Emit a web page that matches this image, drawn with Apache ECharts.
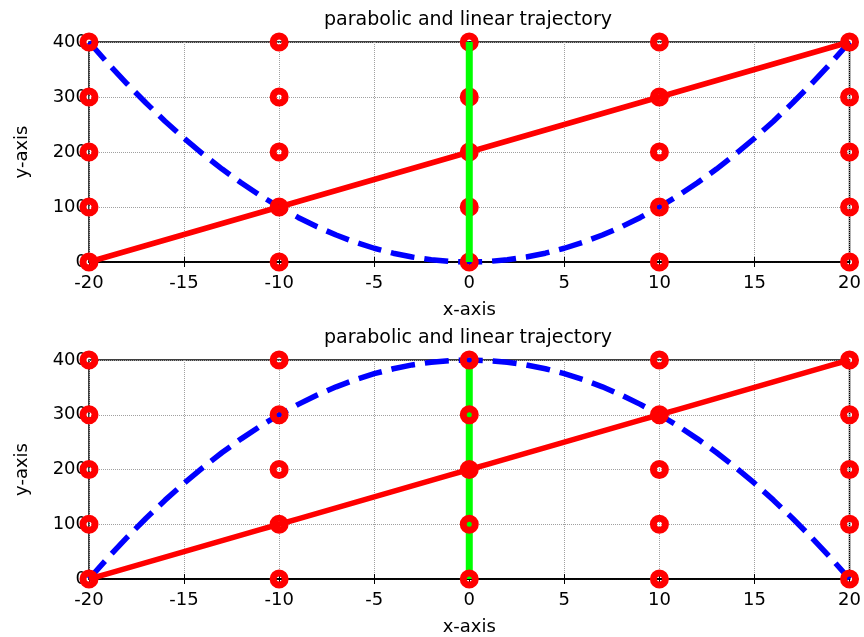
<!DOCTYPE html>
<html>
<head>
<meta charset="utf-8">
<script src="https://cdn.jsdelivr.net/npm/echarts@6/dist/echarts.min.js"></script>
<style>
html,body{margin:0;padding:0;background:#fff;}
#chart{width:864px;height:637px;}
</style>
</head>
<body>
<div id="chart"></div>
<script>
// ---- data ----
var xValues = [-20,-19,-18,-17,-16,-15,-14,-13,-12,-11,-10,-9,-8,-7,-6,-5,-4,-3,-2,-1,0,1,2,3,4,5,6,7,8,9,10,11,12,13,14,15,16,17,18,19,20];
var parabolaUp = [400,361,324,289,256,225,196,169,144,121,100,81,64,49,36,25,16,9,4,1,0,1,4,9,16,25,36,49,64,81,100,121,144,169,196,225,256,289,324,361,400];
var parabolaDown = [0,39,76,111,144,175,204,231,256,279,300,319,336,351,364,375,384,391,396,399,400,399,396,391,384,375,364,351,336,319,300,279,256,231,204,175,144,111,76,39,0];
var linearY = [0,10,20,30,40,50,60,70,80,90,100,110,120,130,140,150,160,170,180,190,200,210,220,230,240,250,260,270,280,290,300,310,320,330,340,350,360,370,380,390,400];
var markerX = [-20,-10,0,10,20];
var markerY = [0,100,200,300,400];
var greenX = [0,0];
var greenY = [0,400];
var xTicks = [-20,-15,-10,-5,0,5,10,15,20];
var yTicks = [0,100,200,300,400];
var titleText = 'parabolic and linear trajectory';
var xName = 'x-axis';
var yName = 'y-axis';

function pairs(xs, ys){ var o=[]; for(var i=0;i<xs.length;i++) o.push([xs[i], ys[i]]); return o; }
function gridPts(){ var o=[]; for(var i=0;i<markerX.length;i++) for(var j=0;j<markerY.length;j++) o.push([markerX[i], markerY[j]]); return o; }

var FONT = 'DejaVu Sans';
var chart = echarts.init(document.getElementById('chart'), null, {renderer:'canvas'});

var grids = [
  {left:89, top:42, width:762, height:220, show:true, borderColor:'#000', borderWidth:1.5, backgroundColor:'#fff'},
  {left:89, top:360, width:762, height:221, show:true, borderColor:'#000', borderWidth:1.5, backgroundColor:'#fff'}
];

function xAxes(g){
  return [
    {type:'value', gridIndex:g, position:'bottom', min:xTicks[0], max:xTicks[xTicks.length-1], interval:5,
     name:xName, nameLocation:'middle', nameGap:39,
     nameTextStyle:{fontFamily:FONT, fontSize:18, color:'#000'},
     axisLine:{show:true, lineStyle:{color:'#000', width:1.5}},
     axisTick:{show:true, inside:true, length:5, lineStyle:{color:'#000'}},
     axisLabel:{fontFamily:FONT, fontSize:18, color:'#000', margin:12},
     splitLine:{show:true, lineStyle:{color:'#a0a0a0', type:'dotted', width:1}}},
    {type:'value', gridIndex:g, position:'top', min:xTicks[0], max:xTicks[xTicks.length-1], interval:5,
     axisLine:{show:true, lineStyle:{color:'#000', width:1.5}},
     axisTick:{show:true, inside:true, length:5, lineStyle:{color:'#000'}},
     axisLabel:{show:false}, splitLine:{show:false}}
  ];
}
function yAxes(g){
  return [
    {type:'value', gridIndex:g, position:'left', min:yTicks[0], max:yTicks[yTicks.length-1], interval:100,
     name:yName, nameLocation:'middle', nameGap:58,
     nameTextStyle:{fontFamily:FONT, fontSize:18, color:'#000'},
     axisLine:{show:true, lineStyle:{color:'#000', width:1.5}},
     axisTick:{show:true, inside:true, length:5, lineStyle:{color:'#000'}},
     axisLabel:{fontFamily:FONT, fontSize:18, color:'#000', margin:2},
     splitLine:{show:true, lineStyle:{color:'#a0a0a0', type:'dotted', width:1}}},
    {type:'value', gridIndex:g, position:'right', min:yTicks[0], max:yTicks[yTicks.length-1], interval:100,
     axisLine:{show:true, lineStyle:{color:'#000', width:1.5}},
     axisTick:{show:true, inside:true, length:5, lineStyle:{color:'#000'}},
     axisLabel:{show:false}, splitLine:{show:false}}
  ];
}

var markerStyle = {color:'rgba(0,0,0,0)', borderColor:'#ff0000', borderWidth:7, opacity:1};

var option = {
  animation:false,
  backgroundColor:'#fff',
  title:[
    {text:titleText, left:468, top:11, textAlign:'center', padding:0, textStyle:{fontFamily:FONT, fontSize:19, fontWeight:'normal', color:'#000'}},
    {text:titleText, left:468, top:329, textAlign:'center', padding:0, textStyle:{fontFamily:FONT, fontSize:19, fontWeight:'normal', color:'#000'}}
  ],
  grid:grids,
  xAxis:xAxes(0).concat(xAxes(1)),
  yAxis:yAxes(0).concat(yAxes(1)),
  series:[
    // top plot
    {type:'line', xAxisIndex:0, yAxisIndex:0, data:pairs(xValues, parabolaUp), showSymbol:false, clip:false, z:3,
     lineStyle:{color:'#0000ff', width:5.5, type:[24,10]}},
    {type:'line', xAxisIndex:0, yAxisIndex:0, data:pairs(xValues, linearY), showSymbol:false, clip:false, z:3,
     lineStyle:{color:'#ff0000', width:5.5}},
    {type:'scatter', xAxisIndex:0, yAxisIndex:0, data:gridPts(), symbol:'circle', symbolSize:12, clip:false, z:4,
     itemStyle:markerStyle},
    {type:'line', xAxisIndex:0, yAxisIndex:0, data:pairs(greenX, greenY), showSymbol:false, clip:false, z:5,
     lineStyle:{color:'#00ff00', width:7}},
    // bottom plot
    {type:'line', xAxisIndex:2, yAxisIndex:2, data:pairs(greenX, greenY), showSymbol:false, clip:false, z:2,
     lineStyle:{color:'#00ff00', width:7}},
    {type:'line', xAxisIndex:2, yAxisIndex:2, data:pairs(xValues, parabolaDown), showSymbol:false, clip:false, z:3,
     lineStyle:{color:'#0000ff', width:5.5, type:[24,10]}},
    {type:'line', xAxisIndex:2, yAxisIndex:2, data:pairs(xValues, linearY), showSymbol:false, clip:false, z:3,
     lineStyle:{color:'#ff0000', width:5.5}},
    {type:'scatter', xAxisIndex:2, yAxisIndex:2, data:gridPts(), symbol:'circle', symbolSize:12, clip:false, z:4,
     itemStyle:markerStyle}
  ]
};
chart.setOption(option);
</script>
</body>
</html>
